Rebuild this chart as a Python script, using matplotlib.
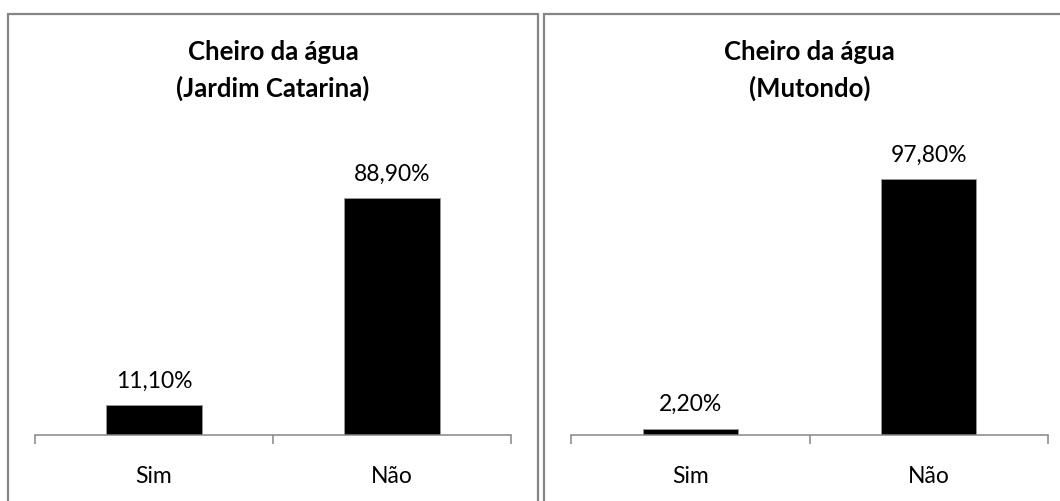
import matplotlib
matplotlib.use("Agg")
import matplotlib.pyplot as plt
from matplotlib.patches import Rectangle

plt.rcParams['font.family'] = ['Lato', 'DejaVu Sans']

categories = ["Sim", "Não"]
jardim_values = [11.1, 88.9]
mutondo_values = [2.2, 97.8]
title_top = "Cheiro da água"
subtitles = ["(Jardim Catarina)", "(Mutondo)"]

W, H = 1060, 502
fig = plt.figure(figsize=(W / 100, H / 100), dpi=100)
fig.patch.set_facecolor("white")

GRAY = "#868686"


def px_rect(x0, y0, x1, y1):
    # convert pixel box (top-left origin) into figure fractions
    return [x0 / W, 1 - y1 / H, (x1 - x0) / W, (y1 - y0) / H]


def panel(box, axes_px, values, subtitle, ymax):
    # frame around each chart
    x0, y0, x1 = box
    fig.add_artist(Rectangle((x0 / W, -0.1), (x1 - x0) / W, 1 - y0 / H + 0.1,
                             transform=fig.transFigure, fill=False,
                             edgecolor=GRAY, linewidth=1.6, clip_on=False))
    ax = fig.add_axes(px_rect(*axes_px))
    ax.bar(range(len(values)), values, width=0.4, color="black",
           edgecolor="#9a9a9a", linewidth=0.6)
    for i, v in enumerate(values):
        ax.annotate(f"{v:.2f}%".replace(".", ","), (i, v), xytext=(0, 18),
                    textcoords="offset points", ha="center", va="center",
                    fontsize=16.5)
    ax.set_xlim(-0.5, len(values) - 0.5)
    ax.set_ylim(0, ymax)
    for s in ["top", "left", "right"]:
        ax.spines[s].set_visible(False)
    ax.spines["bottom"].set_color(GRAY)
    ax.spines["bottom"].set_linewidth(1.1)
    ax.set_yticks([])
    ax.set_xticks([-0.5, 0.5, 1.5])
    ax.set_xticklabels([])
    ax.tick_params(axis="x", which="major", direction="out", length=6.5,
                   width=1.1, color=GRAY)
    ax.set_xticks(range(len(values)), minor=True)
    ax.set_xticklabels(categories, minor=True, fontsize=16.5)
    ax.tick_params(axis="x", which="minor", length=0, pad=22)
    cx = (axes_px[0] + axes_px[2]) / 2
    fig.text(cx / W, 1 - 52 / H, title_top, ha="center", va="center",
             fontsize=18.5, fontweight="bold")
    fig.text(cx / W, 1 - 88 / H, subtitle, ha="center", va="center",
             fontsize=18.5, fontweight="bold")
    return ax


panel((8, 15, 538), (35, 170, 511, 435.5), jardim_values, subtitles[0], 100)
panel((544, 15, 1074), (571, 170, 1048, 435.5), mutondo_values, subtitles[1], 101.7)

fig.savefig("out.png", dpi=100, facecolor="white")
